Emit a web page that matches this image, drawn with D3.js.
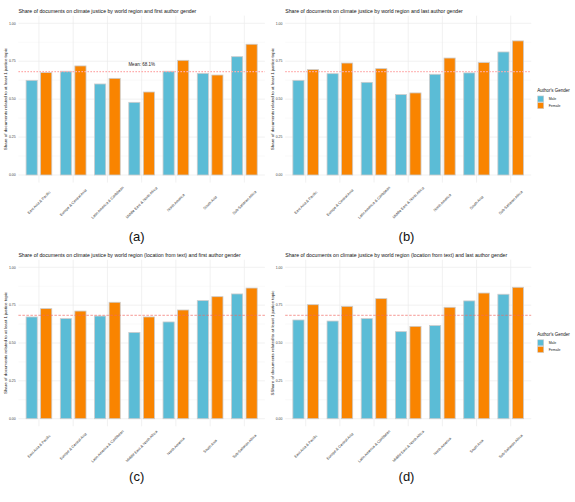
<!DOCTYPE html>
<html>
<head>
<meta charset="utf-8">
<script src="https://cdn.jsdelivr.net/npm/d3@7"></script>
<style>
  body { margin: 0; background: #fff; }
  text { font-family: "Liberation Sans", Arial, sans-serif; }
</style>
</head>
<body>
<svg id="vis" width="575" height="502"></svg>
<script>
// data
const regions = ["East Asia & Pacific", "Europe & Central Asia", "Latin America & Caribbean",
  "Middle East & North Africa", "North America", "South Asia", "Sub-Saharan Africa"];
const genders = ["Male", "Female"];
const yTicks = [0, 0.25, 0.5, 0.75, 1];
const yMinorTicks = [0.125, 0.375, 0.625, 0.875];

const firstMale = [0.624, 0.684, 0.600, 0.479, 0.684, 0.670, 0.780];
const firstFemale = [0.675, 0.719, 0.637, 0.547, 0.756, 0.659, 0.862];
const lastMale = [0.624, 0.668, 0.611, 0.530, 0.664, 0.673, 0.811];
const lastFemale = [0.695, 0.738, 0.701, 0.541, 0.771, 0.741, 0.884];
const textFirstMale = [0.672, 0.661, 0.678, 0.570, 0.639, 0.780, 0.824];
const textFirstFemale = [0.727, 0.711, 0.769, 0.672, 0.718, 0.806, 0.863];
const textLastMale = [0.652, 0.645, 0.661, 0.575, 0.615, 0.778, 0.822];
const textLastFemale = [0.753, 0.742, 0.793, 0.610, 0.736, 0.830, 0.868];
const means = [0.681, 0.681, 0.683, 0.683];

const titles = [
  "Share of documents on climate justice by world region and first author gender",
  "Share of documents on climate justice by world region and last author gender",
  "Share of documents on climate justice by world region (location from text) and first author gender",
  "Share of documents on climate justice by world region (location from text) and last author gender"
];
const yTitles = [
  "Share of documents related to at least 1 justice topic",
  "Share of documents related to at least 1 justice topic",
  "Share of documents related to at least 1 justice topic",
  "SShare of documents related to at least 1 justice topic"
];
const captions = ["(a)", "(b)", "(c)", "(d)"];
const legendTitle = "Author's Gender";
const meanLabel = "Mean: 68.1%";

const colors = {Male: "#5BBCD6", Female: "#F98400"};

const svg = d3.select("#vis");

// panel placement (plot area of each small chart)
const panels = [
  {left: 18.4, right: 264.9, top: 23.3, bottom: 175, male: firstMale, female: firstFemale,
   legend: false, label: true, dash: "1.6,1.4", lineW: 1.3, lineC: "#ffadad"},
  {left: 285.2, right: 531.2, top: 23.3, bottom: 175, male: lastMale, female: lastFemale,
   legend: true, label: false, dash: "1.6,1.4", lineW: 1.3, lineC: "#ffadad"},
  {left: 18.4, right: 264.9, top: 267.3, bottom: 418.7, male: textFirstMale, female: textFirstFemale,
   legend: false, label: false, dash: "2.5,1.5", lineW: 0.7, lineC: "#f06a64"},
  {left: 285.2, right: 531.2, top: 267.3, bottom: 418.7, male: textLastMale, female: textLastFemale,
   legend: true, label: false, dash: "2.5,1.5", lineW: 0.7, lineC: "#f06a64"}
];

panels.forEach((p, i) => drawPanel(p, i));

function drawPanel(p, i) {
  const g = svg.append("g").attr("class", "panel-" + i);

  const x = d3.scaleBand().domain(regions).range([p.left, p.right])
    .paddingInner(0).paddingOuter(0.1);
  const step = x.step();
  const xs = d3.scaleBand().domain(genders)
    .range([-0.387 * step, 0.387 * step]).paddingInner(0.175);
  const y = d3.scaleLinear().domain([0, 1]).range([p.bottom, p.top]);
  const yLo = y(-0.05), yHi = y(1.05);

  // grid
  g.selectAll(".minor").data(yMinorTicks).enter().append("line")
    .attr("x1", p.left).attr("x2", p.right)
    .attr("y1", d => y(d)).attr("y2", d => y(d))
    .attr("stroke", "#f3f3f3").attr("stroke-width", 0.5);
  g.selectAll(".major").data(yTicks).enter().append("line")
    .attr("x1", p.left).attr("x2", p.right)
    .attr("y1", d => y(d)).attr("y2", d => y(d))
    .attr("stroke", "#ebebeb").attr("stroke-width", 0.7);
  g.selectAll(".vgrid").data(regions).enter().append("line")
    .attr("x1", d => x(d) + step / 2).attr("x2", d => x(d) + step / 2)
    .attr("y1", yLo).attr("y2", yHi)
    .attr("stroke", "#ebebeb").attr("stroke-width", 0.7);

  // y tick labels
  g.selectAll(".ytick").data(yTicks).enter().append("text")
    .attr("x", p.left - 2.7).attr("y", d => y(d))
    .attr("dy", "0.35em")
    .attr("text-anchor", "end")
    .attr("font-size", 3.5).attr("fill", "#444")
    .text(d3.format(".2f"));

  // bars
  const rows = regions.map((r, k) => ({r, Male: p.male[k], Female: p.female[k]}));
  const sw = 0.8;
  rows.forEach(row => {
    genders.forEach(gd => {
      g.append("rect")
        .attr("x", x(row.r) + step / 2 + xs(gd) + sw / 2)
        .attr("y", y(row[gd]))
        .attr("width", xs.bandwidth() - sw)
        .attr("height", y(0) - y(row[gd]))
        .attr("fill", colors[gd])
        .attr("stroke", "#cccccc")
        .attr("stroke-width", sw);
    });
  });

  // mean line
  g.append("line")
    .attr("x1", p.left).attr("x2", p.right)
    .attr("y1", y(means[i])).attr("y2", y(means[i]))
    .attr("stroke", p.lineC).attr("stroke-width", p.lineW)
    .attr("stroke-dasharray", p.dash);
  if (p.label) {
    g.append("text")
      .attr("x", x(regions[3]) + step / 2)
      .attr("y", y(means[i] + 0.05))
      .attr("dy", "0.35em")
      .attr("text-anchor", "middle")
      .attr("font-size", 4.5).attr("fill", "#222")
      .text(meanLabel);
  }

  // x tick labels, rotated 45 degrees
  g.selectAll(".xtick").data(regions).enter().append("text")
    .attr("transform", d => `translate(${x(d) + step / 2},${y(0) + 27.5}) rotate(-45)`)
    .attr("dy", "0.35em")
    .attr("text-anchor", "middle")
    .attr("font-size", 3.7).attr("fill", "#333")
    .text(d => d);

  // titles
  g.append("text")
    .attr("x", p.left).attr("y", p.top - 12.6)
    .attr("dy", "0.35em")
    .attr("font-size", 5.2).attr("fill", "#111")
    .text(titles[i]);
  g.append("text")
    .attr("transform", `translate(${p.left - 13.2},${(p.top + p.bottom) / 2}) rotate(-90)`)
    .attr("dy", "0.35em")
    .attr("text-anchor", "middle")
    .attr("font-size", 4.4).attr("fill", "#111")
    .text(yTitles[i]);

  // caption under the panel
  g.append("text")
    .attr("x", i % 2 === 0 ? 136.7 : 406.5)
    .attr("y", i < 2 ? 236.7 : 476.7)
    .attr("dy", "0.35em")
    .attr("text-anchor", "middle")
    .attr("font-family", "Open Sans")
    .attr("font-size", 13)
    .attr("fill", "#111")
    .text(captions[i]);

  if (p.legend) buildLegend(g, p.right + 6, (p.top + p.bottom) / 2 - 8.5);
}

function buildLegend(g, lx, ly) {
  g.append("text")
    .attr("x", lx).attr("y", ly)
    .attr("dy", "0.35em")
    .attr("font-size", 4.5).attr("fill", "#111")
    .text(legendTitle);
  genders.forEach((gd, k) => {
    g.append("rect")
      .attr("x", lx + 0.5).attr("y", ly + 5.3 + k * 6.7)
      .attr("width", 6).attr("height", 6)
      .attr("fill", colors[gd])
      .attr("stroke", "#cccccc").attr("stroke-width", 0.6);
    g.append("text")
      .attr("x", lx + 11.5).attr("y", ly + 8.3 + k * 6.7)
      .attr("dy", "0.35em")
      .attr("font-size", 3.5).attr("fill", "#222")
      .text(gd);
  });
}
</script>
</body>
</html>
